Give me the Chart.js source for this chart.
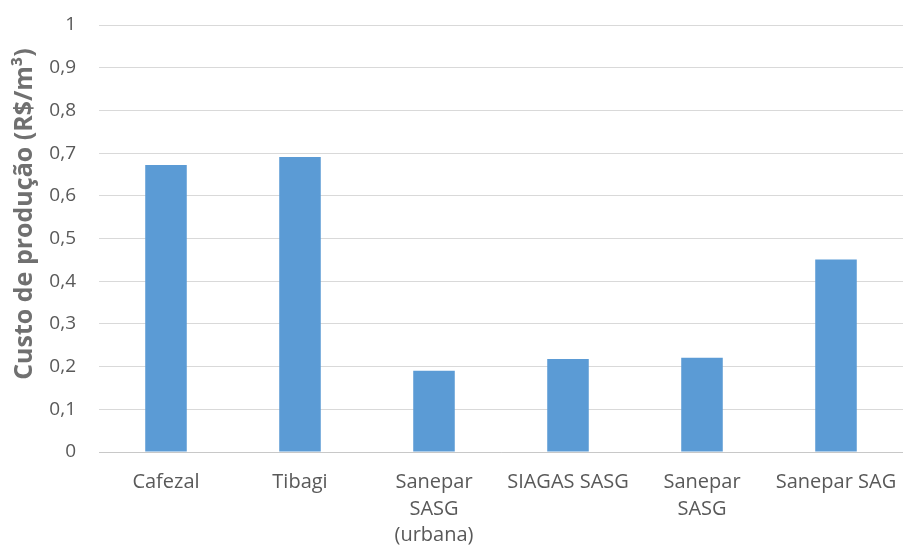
<!DOCTYPE html>
<html>
<head>
<meta charset="utf-8">
<script src="https://cdn.jsdelivr.net/npm/chart.js@4/dist/chart.umd.min.js"></script>
<style>
  html, body { margin: 0; padding: 0; background: #ffffff; }
  #wrap { width: 903px; height: 550px; position: relative; }
</style>
</head>
<body>
<div id="wrap"><canvas id="chart"></canvas></div>
<script>
// Production cost per source (R$/m³)
const categories = [
  'Cafezal',
  'Tibagi',
  ['Sanepar', 'SASG', '(urbana)'],
  'SIAGAS SASG',
  ['Sanepar', 'SASG'],
  'Sanepar SAG'
];
const costValues = [0.672, 0.691, 0.19, 0.218, 0.221, 0.451];
const yTickValues = [0, 0.1, 0.2, 0.3, 0.4, 0.5, 0.6, 0.7, 0.8, 0.9, 1];
const yAxisTitle = 'Custo de produção (R$/m³)';

const textGray = '#595959';

// Rotated axis title placed beside the tick labels
const yTitlePlugin = {
  id: 'yTitle',
  afterDraw(chart) {
    const ctx = chart.ctx;
    ctx.save();
    ctx.translate(25, 214);
    ctx.rotate(-Math.PI / 2);
    ctx.font = 'bold 25px "Open Sans", sans-serif';
    ctx.fillStyle = '#707070';
    ctx.textAlign = 'center';
    ctx.textBaseline = 'middle';
    ctx.fillText(yAxisTitle, 0, 0);
    ctx.restore();
  }
};

new Chart(document.getElementById('chart'), {
  type: 'bar',
  data: {
    labels: categories,
    datasets: [{
      data: costValues,
      backgroundColor: '#5b9bd5',
      borderWidth: 0,
      categoryPercentage: 1,
      barPercentage: 0.31
    }]
  },
  options: {
    responsive: true,
    maintainAspectRatio: false,
    animation: false,
    layout: { padding: { top: 25, right: 0, left: 0, bottom: 0 } },
    plugins: {
      legend: { display: false },
      tooltip: { enabled: false }
    },
    scales: {
      x: {
        grid: { display: false, drawTicks: false },
        border: { display: true, color: '#c8c8c8', width: 1 },
        ticks: {
          color: textGray,
          font: { family: '"Open Sans", sans-serif', size: 20, lineHeight: 1.33 },
          padding: 17,
          maxRotation: 0,
          autoSkip: false
        },
        afterFit(scale) {
          scale.height = 98;
          scale.paddingLeft = 0;
          scale.paddingRight = 0;
        }
      },
      y: {
        min: 0,
        max: 1,
        afterBuildTicks(scale) {
          scale.ticks = yTickValues.map(v => ({ value: v }));
        },
        grid: { color: '#d9d9d9', drawTicks: false, lineWidth: 1 },
        border: { display: false },
        ticks: {
          color: textGray,
          font: { family: '"Open Sans", sans-serif', size: 19 },
          padding: 23,
          callback: (v) => String(Math.round(v * 10) / 10).replace('.', ',')
        },
        afterFit(scale) {
          scale.width = 99;
          scale.paddingTop = 0;
          scale.paddingBottom = 0;
        }
      }
    }
  },
  plugins: [yTitlePlugin]
});
</script>
</body>
</html>
